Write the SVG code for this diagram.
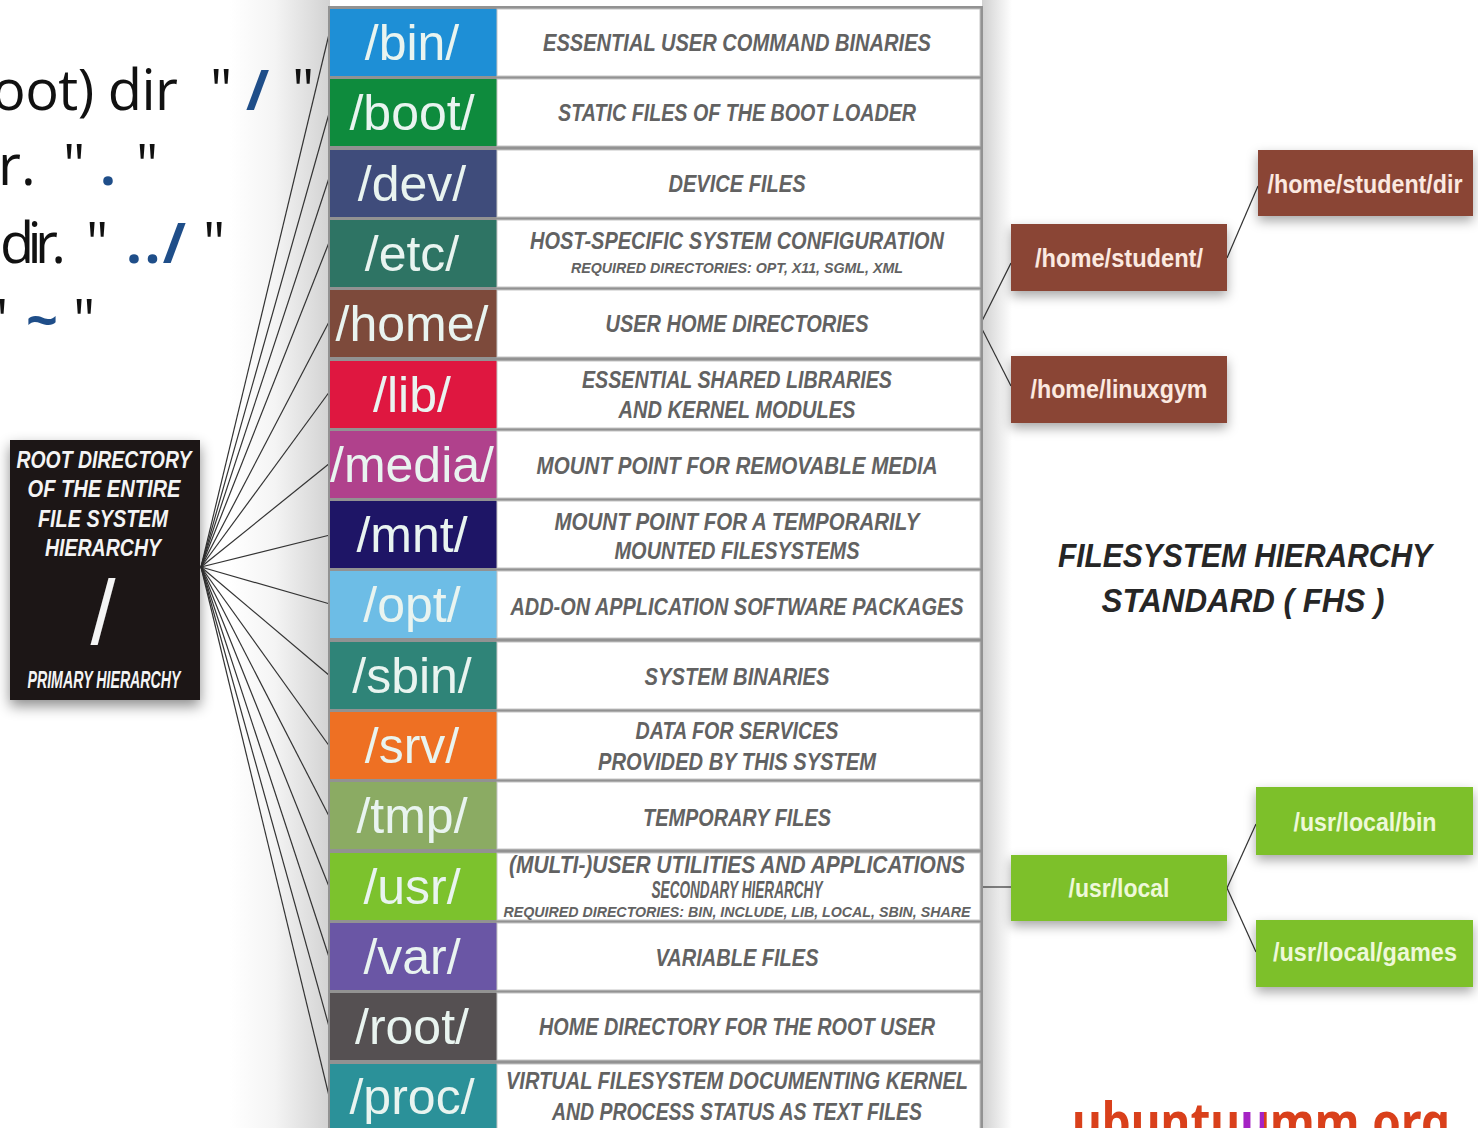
<svg xmlns="http://www.w3.org/2000/svg" width="1478" height="1128" viewBox="0 0 1478 1128">
<defs>
<linearGradient id="lgL" x1="0" y1="0" x2="1" y2="0"><stop offset="0" stop-color="#ffffff"/><stop offset="0.45" stop-color="#f4f4f4"/><stop offset="1" stop-color="#d2d2d2"/></linearGradient>
<linearGradient id="lgR" x1="0" y1="0" x2="1" y2="0"><stop offset="0" stop-color="#d0d0d0"/><stop offset="1" stop-color="#ffffff"/></linearGradient>
<linearGradient id="logoFill" gradientUnits="userSpaceOnUse" x1="1072" y1="0" x2="1450" y2="0">
<stop offset="0" stop-color="#d9401b"/><stop offset="0.437" stop-color="#d9401b"/><stop offset="0.437" stop-color="#a523c4"/><stop offset="0.508" stop-color="#a523c4"/><stop offset="0.508" stop-color="#d9401b"/><stop offset="1" stop-color="#d9401b"/>
</linearGradient>
<filter id="sh" x="-20%" y="-30%" width="140%" height="170%"><feDropShadow dx="0" dy="5" stdDeviation="6" flood-color="#000" flood-opacity="0.35"/></filter>
<filter id="shb" x="-20%" y="-20%" width="140%" height="140%"><feDropShadow dx="0" dy="6" stdDeviation="7" flood-color="#000" flood-opacity="0.45"/></filter>
</defs>
<style>
.intro{font-family:"Open Sans","Noto Sans","Liberation Sans",sans-serif;font-size:56px;fill:#111}
.blue{fill:#1f4e89;font-weight:bold}
.lbl{font-family:"Liberation Sans",Arial,sans-serif;font-size:50px;fill:#e9f4f0;text-anchor:middle}
.desc{font-family:"Liberation Sans",Arial,sans-serif;font-weight:bold;font-style:italic;font-size:24px;fill:#626262;text-anchor:middle}
.sm{font-size:15px}
.cell{fill:#ffffff;stroke:#c4c4c4;stroke-width:1}
.rootT{font-family:"Liberation Sans",Arial,sans-serif;font-weight:bold;font-style:italic;font-size:24px;fill:#f4f4f4;text-anchor:middle}
.ttl{font-family:"Liberation Sans",Arial,sans-serif;font-weight:bold;font-style:italic;font-size:34px;fill:#262626;text-anchor:middle}
.nt{font-family:"Liberation Sans",Arial,sans-serif;font-size:25px;text-anchor:middle;font-weight:bold}
.brown{fill:#8a4434}
.green{fill:#7dc02a}
.logo{font-family:"Noto Sans","Liberation Sans",sans-serif;font-weight:bold;font-size:52px;fill:url(#logoFill)}
.conn line{stroke:#333;stroke-width:1.2}
</style>
<rect width="1478" height="1128" fill="#ffffff"/>
<rect x="230" y="0" width="100" height="1128" fill="url(#lgL)"/>
<rect x="982" y="0" width="30" height="1128" fill="url(#lgR)"/>

<g id="intro-text">
<text class="intro" y="110"><tspan x="-8" textLength="186">oot) dir</tspan><tspan x="210">"</tspan><tspan class="blue" x="246">/</tspan><tspan x="292">"</tspan></text>
<text class="intro" y="185"><tspan x="-2">r.</tspan><tspan x="63">"</tspan><tspan class="blue" x="100">.</tspan><tspan x="136">"</tspan></text>
<text class="intro" y="263"><tspan x="0" textLength="66">dir.</tspan><tspan x="86">"</tspan><tspan class="blue" x="126" textLength="60">../</tspan><tspan x="203">"</tspan></text>
<text class="intro" y="340"><tspan x="-14">"</tspan><tspan class="blue" x="26">~</tspan><tspan x="73">"</tspan></text>
</g>

<g id="connectors" class="conn">
<line x1="201" y1="567" x2="330" y2="30"/>
<line x1="201" y1="567" x2="330" y2="110"/>
<line x1="201" y1="567" x2="330" y2="175"/>
<line x1="201" y1="567" x2="330" y2="240"/>
<line x1="201" y1="567" x2="330" y2="320"/>
<line x1="201" y1="567" x2="330" y2="391"/>
<line x1="201" y1="567" x2="330" y2="463"/>
<line x1="201" y1="567" x2="330" y2="535"/>
<line x1="201" y1="567" x2="330" y2="604"/>
<line x1="201" y1="567" x2="330" y2="676"/>
<line x1="201" y1="567" x2="330" y2="747"/>
<line x1="201" y1="567" x2="330" y2="818"/>
<line x1="201" y1="567" x2="330" y2="889"/>
<line x1="201" y1="567" x2="330" y2="960"/>
<line x1="201" y1="567" x2="330" y2="1030"/>
<line x1="201" y1="567" x2="330" y2="1100"/>
<line x1="980" y1="325" x2="1011" y2="263"/>
<line x1="980" y1="325" x2="1011" y2="386"/>
<line x1="1227" y1="258" x2="1258" y2="186"/>
<line x1="980" y1="887" x2="1011" y2="887"/>
<line x1="1227" y1="888" x2="1256" y2="824"/>
<line x1="1227" y1="888" x2="1256" y2="952"/>
</g>

<g id="root">
<rect x="10" y="440" width="190" height="260" fill="#1b1614" filter="url(#shb)"/>
<text class="rootT" x="104" y="468" textLength="175" lengthAdjust="spacingAndGlyphs">ROOT DIRECTORY</text>
<text class="rootT" x="104" y="497" textLength="153" lengthAdjust="spacingAndGlyphs">OF THE ENTIRE</text>
<text class="rootT" x="103" y="527" textLength="130" lengthAdjust="spacingAndGlyphs">FILE SYSTEM</text>
<text class="rootT" x="103" y="556" textLength="116" lengthAdjust="spacingAndGlyphs">HIERARCHY</text>
<text x="103" y="644" font-family="Liberation Sans, Arial, sans-serif" font-size="90" fill="#f4f4f4" text-anchor="middle">/</text>
<text class="rootT" x="104" y="688" font-size="15" textLength="153" lengthAdjust="spacingAndGlyphs">PRIMARY HIERARCHY</text>
</g>

<g id="table">
<rect x="328" y="6" width="655" height="1122" fill="#929292"/>
<g id="row-bin"><rect x="330" y="9" width="167" height="67" fill="#1e8fd6"/><rect class="cell" x="497" y="9" width="483" height="67"/>
<text class="lbl" x="412" y="60">/bin/</text><text class="desc" x="737" y="51" textLength="388" lengthAdjust="spacingAndGlyphs">ESSENTIAL USER COMMAND BINARIES</text></g>
<g id="row-boot"><rect x="330" y="79" width="167" height="67" fill="#0e8b3d"/><rect class="cell" x="497" y="79" width="483" height="67"/>
<text class="lbl" x="412" y="130">/boot/</text><text class="desc" x="737" y="121" textLength="358" lengthAdjust="spacingAndGlyphs">STATIC FILES OF THE BOOT LOADER</text></g>
<g id="row-dev"><rect x="330" y="150" width="167" height="67" fill="#3f4c7b"/><rect class="cell" x="497" y="150" width="483" height="67"/>
<text class="lbl" x="412" y="201">/dev/</text><text class="desc" x="737" y="192" textLength="137" lengthAdjust="spacingAndGlyphs">DEVICE FILES</text></g>
<g id="row-etc"><rect x="330" y="220" width="167" height="67" fill="#2e7464"/><rect class="cell" x="497" y="220" width="483" height="67"/>
<text class="lbl" x="412" y="271">/etc/</text><text class="desc" x="737" y="249" textLength="414" lengthAdjust="spacingAndGlyphs">HOST-SPECIFIC SYSTEM CONFIGURATION</text>
<text class="desc sm" x="737" y="273" textLength="332" lengthAdjust="spacingAndGlyphs">REQUIRED DIRECTORIES: OPT, X11, SGML, XML</text></g>
<g id="row-home"><rect x="330" y="290" width="167" height="67" fill="#7d4a3b"/><rect class="cell" x="497" y="290" width="483" height="67"/>
<text class="lbl" x="412" y="341">/home/</text><text class="desc" x="737" y="332" textLength="263" lengthAdjust="spacingAndGlyphs">USER HOME DIRECTORIES</text></g>
<g id="row-lib"><rect x="330" y="361" width="167" height="67" fill="#df1740"/><rect class="cell" x="497" y="361" width="483" height="67"/>
<text class="lbl" x="412" y="412">/lib/</text><text class="desc" x="737" y="388" textLength="310" lengthAdjust="spacingAndGlyphs">ESSENTIAL SHARED LIBRARIES</text>
<text class="desc" x="737" y="418" textLength="237" lengthAdjust="spacingAndGlyphs">AND KERNEL MODULES</text></g>
<g id="row-media"><rect x="330" y="431" width="167" height="67" fill="#b0418c"/><rect class="cell" x="497" y="431" width="483" height="67"/>
<text class="lbl" x="412" y="482">/media/</text><text class="desc" x="737" y="474" textLength="401" lengthAdjust="spacingAndGlyphs">MOUNT POINT FOR REMOVABLE MEDIA</text></g>
<g id="row-mnt"><rect x="330" y="501" width="167" height="67" fill="#1e1566"/><rect class="cell" x="497" y="501" width="483" height="67"/>
<text class="lbl" x="412" y="552">/mnt/</text><text class="desc" x="737" y="530" textLength="365" lengthAdjust="spacingAndGlyphs">MOUNT POINT FOR A TEMPORARILY</text>
<text class="desc" x="737" y="559" textLength="245" lengthAdjust="spacingAndGlyphs">MOUNTED FILESYSTEMS</text></g>
<g id="row-opt"><rect x="330" y="571" width="167" height="67" fill="#6dbde6"/><rect class="cell" x="497" y="571" width="483" height="67"/>
<text class="lbl" x="412" y="622">/opt/</text><text class="desc" x="737" y="615" textLength="453" lengthAdjust="spacingAndGlyphs">ADD-ON APPLICATION SOFTWARE PACKAGES</text></g>
<g id="row-sbin"><rect x="330" y="642" width="167" height="67" fill="#2f8478"/><rect class="cell" x="497" y="642" width="483" height="67"/>
<text class="lbl" x="412" y="693">/sbin/</text><text class="desc" x="737" y="685" textLength="185" lengthAdjust="spacingAndGlyphs">SYSTEM BINARIES</text></g>
<g id="row-srv"><rect x="330" y="712" width="167" height="67" fill="#ee7023"/><rect class="cell" x="497" y="712" width="483" height="67"/>
<text class="lbl" x="412" y="763">/srv/</text><text class="desc" x="737" y="739" textLength="203" lengthAdjust="spacingAndGlyphs">DATA FOR SERVICES</text>
<text class="desc" x="737" y="770" textLength="278" lengthAdjust="spacingAndGlyphs">PROVIDED BY THIS SYSTEM</text></g>
<g id="row-tmp"><rect x="330" y="782" width="167" height="67" fill="#8bab63"/><rect class="cell" x="497" y="782" width="483" height="67"/>
<text class="lbl" x="412" y="833">/tmp/</text><text class="desc" x="737" y="826" textLength="188" lengthAdjust="spacingAndGlyphs">TEMPORARY FILES</text></g>
<g id="row-usr"><rect x="330" y="853" width="167" height="67" fill="#7cc22d"/><rect class="cell" x="497" y="853" width="483" height="67"/>
<text class="lbl" x="412" y="904">/usr/</text><text class="desc" x="737" y="873" font-size="19" textLength="456" lengthAdjust="spacingAndGlyphs">(MULTI-)USER UTILITIES AND APPLICATIONS</text>
<text class="desc" x="737" y="898" font-size="12" textLength="171" lengthAdjust="spacingAndGlyphs">SECONDARY HIERARCHY</text>
<text class="desc sm" x="737" y="917" textLength="467" lengthAdjust="spacingAndGlyphs">REQUIRED DIRECTORIES: BIN, INCLUDE, LIB, LOCAL, SBIN, SHARE</text></g>
<g id="row-var"><rect x="330" y="923" width="167" height="67" fill="#6a56a5"/><rect class="cell" x="497" y="923" width="483" height="67"/>
<text class="lbl" x="412" y="974">/var/</text><text class="desc" x="737" y="966" textLength="163" lengthAdjust="spacingAndGlyphs">VARIABLE FILES</text></g>
<g id="row-root"><rect x="330" y="993" width="167" height="67" fill="#555052"/><rect class="cell" x="497" y="993" width="483" height="67"/>
<text class="lbl" x="412" y="1044">/root/</text><text class="desc" x="737" y="1035" textLength="396" lengthAdjust="spacingAndGlyphs">HOME DIRECTORY FOR THE ROOT USER</text></g>
<g id="row-proc"><rect x="330" y="1064" width="167" height="67" fill="#2b9199"/><rect class="cell" x="497" y="1064" width="483" height="67"/>
<text class="lbl" x="412" y="1114">/proc/</text><text class="desc" x="737" y="1089" textLength="462" lengthAdjust="spacingAndGlyphs">VIRTUAL FILESYSTEM DOCUMENTING KERNEL</text>
<text class="desc" x="737" y="1120" textLength="370" lengthAdjust="spacingAndGlyphs">AND PROCESS STATUS AS TEXT FILES</text></g>
</g>

<g id="home-student-dir"><rect class="brown" x="1258" y="150" width="215" height="66" filter="url(#sh)"/><text class="nt" x="1365" y="193" fill="#fbe9e0" textLength="195" lengthAdjust="spacingAndGlyphs">/home/student/dir</text></g>
<g id="home-student"><rect class="brown" x="1011" y="224" width="216" height="67" filter="url(#sh)"/><text class="nt" x="1119" y="267" fill="#fbe9e0" textLength="168" lengthAdjust="spacingAndGlyphs">/home/student/</text></g>
<g id="home-linuxgym"><rect class="brown" x="1011" y="356" width="216" height="67" filter="url(#sh)"/><text class="nt" x="1119" y="398" fill="#fbe9e0" textLength="177" lengthAdjust="spacingAndGlyphs">/home/linuxgym</text></g>

<g id="fhs-title">
<text class="ttl" x="1245" y="567" textLength="374" lengthAdjust="spacingAndGlyphs">FILESYSTEM HIERARCHY</text>
<text class="ttl" x="1243" y="612" textLength="283" lengthAdjust="spacingAndGlyphs">STANDARD ( FHS )</text>
</g>

<g id="usr-local"><rect class="green" x="1011" y="855" width="216" height="66" filter="url(#sh)"/><text class="nt" x="1119" y="897" fill="#eef8d8" textLength="101" lengthAdjust="spacingAndGlyphs">/usr/local</text></g>
<g id="usr-local-bin"><rect class="green" x="1256" y="787" width="217" height="68" filter="url(#sh)"/><text class="nt" x="1365" y="831" fill="#eef8d8" textLength="143" lengthAdjust="spacingAndGlyphs">/usr/local/bin</text></g>
<g id="usr-local-games"><rect class="green" x="1256" y="920" width="217" height="67" filter="url(#sh)"/><text class="nt" x="1365" y="961" fill="#eef8d8" textLength="184" lengthAdjust="spacingAndGlyphs">/usr/local/games</text></g>

<g id="logo">
<text class="logo" x="1072" y="1140" textLength="378" lengthAdjust="spacingAndGlyphs">ubuntuumm.org</text>
</g>
</svg>
